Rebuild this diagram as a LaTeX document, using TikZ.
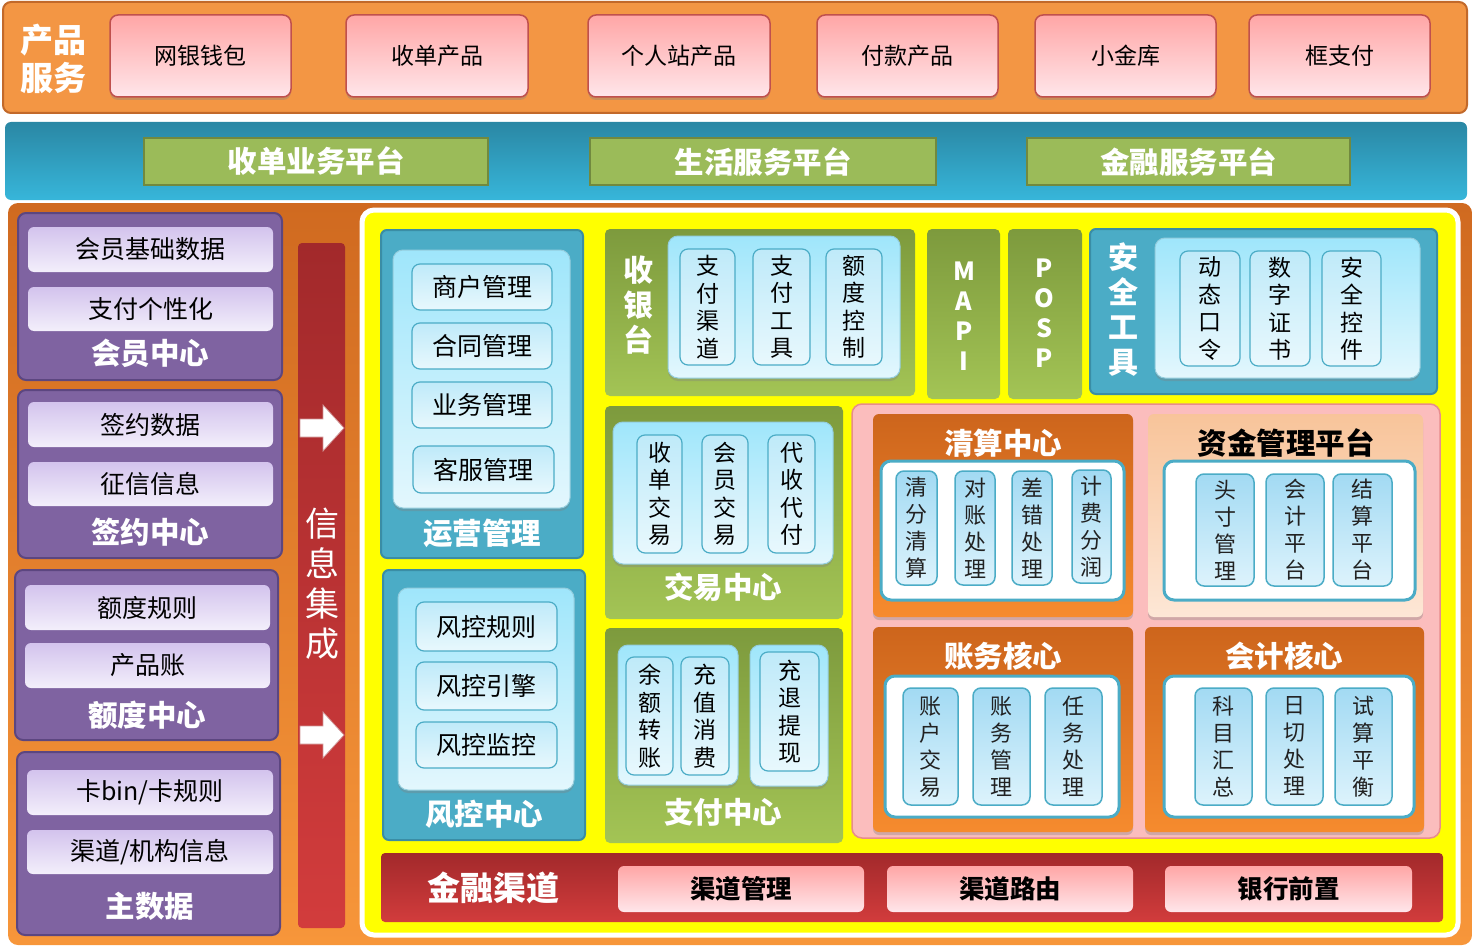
\documentclass[tikz,border=0pt]{standalone}
\usepackage{fontspec}
\setmainfont{Noto Sans CJK SC}
\usetikzlibrary{shadows}
\definecolor{bandOr}{HTML}{F39644}
\definecolor{bandOrD}{HTML}{C2692A}
\definecolor{blueT}{HTML}{2A87A4}
\definecolor{blueB}{HTML}{37B6DA}
\definecolor{platG}{HTML}{9BBB59}
\definecolor{platGD}{HTML}{71893F}
\definecolor{mainT}{HTML}{D06A20}
\definecolor{mainB}{HTML}{F7963A}
\definecolor{purp}{HTML}{7F63A1}
\definecolor{purpD}{HTML}{5C4680}
\definecolor{lavT}{HTML}{D3C3ED}
\definecolor{lavB}{HTML}{F3EFFB}
\definecolor{redT}{HTML}{A2292B}
\definecolor{redB}{HTML}{D23C3C}
\definecolor{teal}{HTML}{4BACC6}
\definecolor{tealD}{HTML}{3A8DA5}
\definecolor{ltT}{HTML}{9FE6FB}
\definecolor{ltB}{HTML}{E3F7FD}
\definecolor{itT}{HTML}{BFEAF9}
\definecolor{itB}{HTML}{E8F8FD}
\definecolor{grT}{HTML}{7D9A3D}
\definecolor{grB}{HTML}{A3C455}
\definecolor{pinkA}{HTML}{FBBDBD}
\definecolor{pinkD}{HTML}{E88C8C}
\definecolor{orT}{HTML}{CD651C}
\definecolor{orB}{HTML}{F68B2E}
\definecolor{peT}{HTML}{F8C49A}
\definecolor{peB}{HTML}{FDE7D6}
\definecolor{ciT}{HTML}{A2DAF3}
\definecolor{ciB}{HTML}{DDF3FC}
\definecolor{prT}{HTML}{FFA6A6}
\definecolor{prB}{HTML}{FFE6EA}
\definecolor{prD}{HTML}{C0504D}
\definecolor{ylw}{HTML}{FFFF00}
\definecolor{txt}{HTML}{222222}
\newcommand\mkbox[7]{%
  \pgfmathsetmacro\bxcx{(#3+#5)/2}%
  \pgfmathsetmacro\bxcy{(#4+#6)/2}%
  \pgfmathsetmacro\bxw{#5-#3}%
  \pgfmathsetmacro\bxh{#6-#4}%
  \node[#1,minimum width=\bxw pt,minimum height=\bxh pt,inner sep=0pt] (#2) at (\bxcx,\bxcy) {#7};}
\newcommand\warrowat[1]{%
  \fill[white,draw=redT!50,line width=0.8pt] (300,#1-9) -- (323,#1-9) -- (323,#1-23) -- (344,#1) -- (323,#1+23) -- (323,#1+9) -- (300,#1+9) -- cycle;}
\begin{document}
\begin{tikzpicture}[x=1pt,y=-1pt,
  sh/.style={drop shadow={shadow xshift=0pt,shadow yshift=-3pt,opacity=0.35}},
  band1/.style={rounded corners=8pt,fill=bandOr,draw=bandOrD,line width=2pt},
  band2/.style={rounded corners=6pt,top color=blueT,bottom color=blueB,draw=none},
  band3/.style={rounded corners=10pt,top color=mainT,bottom color=mainB,draw=none},
  prod/.style={rounded corners=8pt,top color=prT,bottom color=prB,draw=prD,line width=1.5pt,sh,font=\fontsize{23}{25}\selectfont},
  plat/.style={fill=platG,draw=platGD,line width=2.5pt,text=white,font=\bfseries\fontsize{29.5}{31}\selectfont},
  ttl/.style={text=white,align=center,font=\bfseries\fontsize{33}{38}\selectfont},
  pbox/.style={rounded corners=8pt,fill=purp,draw=purpD,line width=2pt},
  lav/.style={rounded corners=6pt,top color=lavT,bottom color=lavB,draw=none,font=\fontsize{25}{27}\selectfont},
  lbl/.style={text=white,font=\bfseries\fontsize{29.5}{31}\selectfont},
  rbar/.style={rounded corners=4pt,top color=redT,bottom color=redB,draw=none},
  ybox/.style={rounded corners=12pt,fill=ylw,draw=white,line width=5pt},
  tbox/.style={rounded corners=6pt,fill=teal,draw=tealD,line width=2pt},
  lbox/.style={rounded corners=10pt,top color=ltT,bottom color=ltB,draw=teal!60,line width=1pt,sh},
  bitm/.style={rounded corners=8pt,top color=itT,bottom color=itB,draw=teal,line width=1.2pt,font=\fontsize{25}{27}\selectfont},
  vitm/.style={rounded corners=8pt,top color=itT,bottom color=itB,draw=teal,line width=1.2pt,align=center,font=\fontsize{23}{27.5}\selectfont},
  vlbl/.style={text=white,align=center,font=\bfseries\fontsize{30}{35}\selectfont},
  mlbl/.style={text=white,align=center,font=\bfseries\fontsize{25}{30}\selectfont},
  gbox/.style={rounded corners=5pt,top color=grT,bottom color=grB,draw=none},
  pinkbox/.style={rounded corners=10pt,fill=pinkA,draw=pinkD,line width=1.5pt},
  obox/.style={rounded corners=6pt,top color=orT,bottom color=orB,draw=none,sh},
  peach/.style={rounded corners=6pt,top color=peT,bottom color=peB,draw=none,sh},
  wbox/.style={rounded corners=10pt,fill=white,draw=teal,line width=3pt},
  citm/.style={rounded corners=8pt,top color=ciT,bottom color=ciB,draw=teal,line width=1.5pt,align=center,text=txt,font=\fontsize{22}{27}\selectfont},
  chn/.style={rounded corners=6pt,top color=prT,bottom color=prB,draw=none,font=\bfseries\fontsize{25.5}{27}\selectfont}
]
\useasboundingbox (0,0) rectangle (1473,947);
% top band
\mkbox{band1}{topband}{3}{2}{1467}{113}{}
\node[ttl] (topttl) at (53,59) {产品\\服务};
\mkbox{prod}{p1}{110}{15}{291}{97}{网银钱包}
\mkbox{prod}{p2}{346}{15}{528}{97}{收单产品}
\mkbox{prod}{p3}{588}{15}{770}{97}{个人站产品}
\mkbox{prod}{p4}{817}{15}{998}{97}{付款产品}
\mkbox{prod}{p5}{1035}{15}{1216}{97}{小金库}
\mkbox{prod}{p6}{1249}{15}{1430}{97}{框支付}
% platform band
\mkbox{band2}{plband}{5}{122}{1467}{200}{}
\mkbox{plat}{pl1}{144}{138}{488}{185}{收单业务平台}
\mkbox{plat}{pl2}{590}{138}{936}{185}{生活服务平台}
\mkbox{plat}{pl3}{1027}{138}{1350}{185}{金融服务平台}
% main area
\mkbox{band3}{mainband}{8}{203}{1472}{945}{}
% left column
\mkbox{pbox}{hy}{18}{213}{282}{380}{}
\mkbox{lav}{hy1}{28}{227}{273}{272}{会员基础数据}
\mkbox{lav}{hy2}{28}{287}{273}{331}{支付个性化}
\node[lbl] (hyl) at (150,353) {会员中心};
\mkbox{pbox}{qy}{18}{390}{282}{558}{}
\mkbox{lav}{qy1}{28}{402}{273}{447}{签约数据}
\mkbox{lav}{qy2}{28}{462}{273}{506}{征信信息}
\node[lbl] (qyl) at (150,532) {签约中心};
\mkbox{pbox}{ed}{15}{570}{278}{740}{}
\mkbox{lav}{ed1}{25}{585}{270}{630}{额度规则}
\mkbox{lav}{ed2}{25}{643}{270}{688}{产品账}
\node[lbl] (edl) at (147,715) {额度中心};
\mkbox{pbox}{zs}{17}{752}{280}{935}{}
\mkbox{lav}{zs1}{27}{770}{273}{815}{卡bin/卡规则}
\mkbox{lav}{zs2}{27}{830}{273}{874}{渠道/机构信息}
\node[lbl] (zsl) at (150,906) {主数据};
% info bar
\mkbox{rbar}{xx}{298}{243}{345}{928}{}
\node[text=white,align=center,font=\fontsize{34}{40}\selectfont] (xxl) at (322,584) {信\\息\\集\\成};
\warrowat{428}
\warrowat{735}
% yellow area
\mkbox{ybox}{yarea}{362}{210}{1458}{935}{}
% 运营管理
\mkbox{tbox}{yy}{381}{230}{583}{558}{}
\mkbox{lbox}{yyin}{393}{250}{570}{508}{}
\mkbox{bitm}{yy1}{412}{264}{552}{310}{商户管理}
\mkbox{bitm}{yy2}{412}{323}{552}{369}{合同管理}
\mkbox{bitm}{yy3}{412}{382}{552}{428}{业务管理}
\mkbox{bitm}{yy4}{413}{446}{554}{493}{客服管理}
\node[lbl] (yyl) at (482,533) {运营管理};
% 风控中心
\mkbox{tbox}{fk}{383}{570}{585}{840}{}
\mkbox{lbox}{fkin}{398}{588}{574}{790}{}
\mkbox{bitm}{fk1}{416}{602}{557}{651}{风控规则}
\mkbox{bitm}{fk2}{416}{662}{557}{710}{风控引擎}
\mkbox{bitm}{fk3}{416}{722}{557}{768}{风控监控}
\node[lbl] (fkl) at (484,814) {风控中心};
% 收银台
\mkbox{gbox}{sy}{605}{229}{915}{396}{}
\node[vlbl] (syl) at (638,305) {收\\银\\台};
\mkbox{lbox}{syin}{668}{236}{900}{378}{}
\mkbox{vitm}{sy1}{680}{249}{735}{365}{支\\付\\渠\\道}
\mkbox{vitm}{sy2}{753}{249}{810}{365}{支\\付\\工\\具}
\mkbox{vitm}{sy3}{826}{249}{882}{365}{额\\度\\控\\制}
% MAPI POSP
\mkbox{gbox}{mapi}{927}{229}{1000}{399}{}
\node[mlbl] (mapil) at (964,316) {M\\A\\P\\I};
\mkbox{gbox}{posp}{1008}{229}{1082}{399}{}
\node[mlbl] (pospl) at (1044,313) {P\\O\\S\\P};
% 安全工具
\mkbox{tbox}{aq}{1090}{229}{1437}{394}{}
\node[vlbl] (aql) at (1123,310) {安\\全\\工\\具};
\mkbox{lbox}{aqin}{1155}{238}{1420}{378}{}
\mkbox{vitm}{aq1}{1180}{251}{1240}{366}{动\\态\\口\\令}
\mkbox{vitm}{aq2}{1250}{251}{1310}{366}{数\\字\\证\\书}
\mkbox{vitm}{aq3}{1322}{251}{1381}{366}{安\\全\\控\\件}
% 交易中心
\mkbox{gbox}{jy}{605}{406}{843}{619}{}
\mkbox{lbox}{jyin}{613}{422}{833}{564}{}
\mkbox{vitm}{jy1}{637}{435}{682}{553}{收\\单\\交\\易}
\mkbox{vitm}{jy2}{702}{435}{748}{553}{会\\员\\交\\易}
\mkbox{vitm}{jy3}{768}{435}{815}{553}{代\\收\\代\\付}
\node[lbl] (jyl) at (723,587) {交易中心};
% 支付中心
\mkbox{gbox}{zf}{605}{628}{843}{843}{}
\mkbox{lbox}{zfin1}{618}{645}{738}{785}{}
\mkbox{vitm}{zf1}{626}{657}{673}{775}{余\\额\\转\\账}
\mkbox{vitm}{zf2}{681}{657}{729}{775}{充\\值\\消\\费}
\mkbox{lbox}{zfin2}{750}{645}{828}{786}{}
\mkbox{vitm}{zf3}{760}{652}{819}{771}{充\\退\\提\\现}
\node[lbl] (zfl) at (723,812) {支付中心};
% pink area
\mkbox{pinkbox}{pk}{852}{404}{1440}{838}{}
\mkbox{obox}{qs}{873}{414}{1133}{617}{}
\node[lbl] (qsl) at (1003,443) {清算中心};
\mkbox{wbox}{qsin}{881}{461}{1124}{600}{}
\mkbox{citm}{qs1}{896}{471}{937}{585}{清\\分\\清\\算}
\mkbox{citm}{qs2}{955}{471}{995}{585}{对\\账\\处\\理}
\mkbox{citm}{qs3}{1012}{471}{1052}{585}{差\\错\\处\\理}
\mkbox{citm}{qs4}{1072}{470}{1111}{583}{计\\费\\分\\润}
\mkbox{peach}{zj}{1148}{414}{1423}{617}{}
\node[lbl,text=black] (zjl) at (1286,443) {资金管理平台};
\mkbox{wbox}{zjin}{1164}{461}{1415}{600}{}
\mkbox{citm}{zj1}{1196}{474}{1254}{586}{头\\寸\\管\\理}
\mkbox{citm}{zj2}{1266}{474}{1324}{586}{会\\计\\平\\台}
\mkbox{citm}{zj3}{1333}{474}{1392}{586}{结\\算\\平\\台}
\mkbox{obox}{zw}{873}{627}{1133}{832}{}
\node[lbl] (zwl) at (1003,656) {账务核心};
\mkbox{wbox}{zwin}{885}{676}{1119}{817}{}
\mkbox{citm}{zw1}{903}{688}{958}{805}{账\\户\\交\\易}
\mkbox{citm}{zw2}{973}{688}{1030}{805}{账\\务\\管\\理}
\mkbox{citm}{zw3}{1045}{688}{1102}{805}{任\\务\\处\\理}
\mkbox{obox}{kj}{1145}{627}{1424}{832}{}
\node[lbl] (kjl) at (1284,656) {会计核心};
\mkbox{wbox}{kjin}{1164}{676}{1414}{817}{}
\mkbox{citm}{kj1}{1195}{688}{1252}{805}{科\\目\\汇\\总}
\mkbox{citm}{kj2}{1266}{688}{1323}{805}{日\\切\\处\\理}
\mkbox{citm}{kj3}{1335}{688}{1392}{805}{试\\算\\平\\衡}
% 金融渠道
\mkbox{rbar}{jr}{381}{853}{1443}{922}{}
\node[lbl,font=\bfseries\fontsize{33}{35}\selectfont] (jrl) at (493,888) {金融渠道};
\mkbox{chn}{jr1}{618}{866}{864}{912}{渠道管理}
\mkbox{chn}{jr2}{887}{866}{1133}{912}{渠道路由}
\mkbox{chn}{jr3}{1165}{866}{1412}{912}{银行前置}
\end{tikzpicture}
\end{document}
